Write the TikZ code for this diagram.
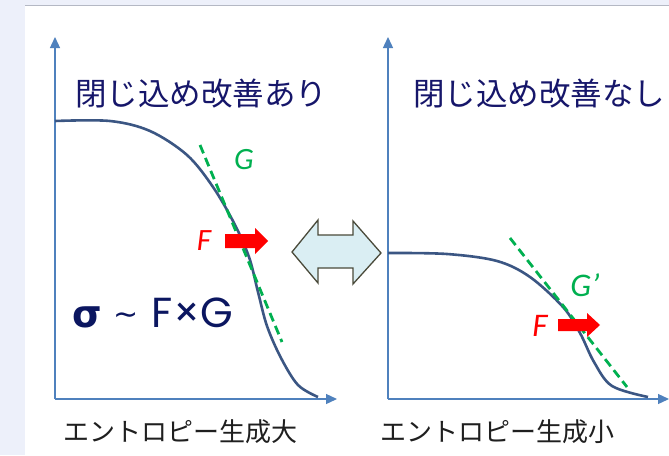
\documentclass[tikz,border=0pt]{standalone}
\usepackage{fontspec}
\usetikzlibrary{arrows.meta}
\newfontfamily\jpfont{Noto Sans CJK JP}
\newfontfamily\lblfont{Carlito}
\newfontfamily\formfont{Poppins}
\newfontfamily\sigfont{DejaVu Sans}
\definecolor{bgside}{HTML}{EDF0FA}
\definecolor{topline}{HTML}{B4B8C4}
\definecolor{axisblue}{HTML}{4F81BD}
\definecolor{curveblue}{HTML}{3B5683}
\definecolor{dgreen}{HTML}{00B050}
\definecolor{navy}{HTML}{16166A}
\definecolor{formnavy}{HTML}{0B1660}
\definecolor{arrowfill}{HTML}{DAEEF3}
\definecolor{arrowline}{HTML}{4A4A3A}
\begin{document}
\begin{tikzpicture}[x=1pt,y=-1pt,
  axis/.style={draw=axisblue,line width=1.3pt,-{Triangle[length=11pt,width=10pt]}},
  curve/.style={draw=curveblue,line width=2.6pt},
  tangent/.style={draw=dgreen,line width=2.8pt,dash pattern=on 9pt off 5pt},
  forcearrow/.style={fill=red,draw=none},
  title/.style={font=\jpfont\fontsize{31.5}{33}\selectfont,text=navy,inner sep=0pt,anchor=west},
  xlabel/.style={font=\jpfont\fontsize{26}{28}\selectfont,text=black!88,inner sep=0pt,anchor=west},
  flabel/.style={font=\lblfont\itshape\fontsize{31}{33}\selectfont,text=red,inner sep=0pt},
  glabel/.style={font=\lblfont\itshape\fontsize{31}{33}\selectfont,text=dgreen,inner sep=0pt}]
\useasboundingbox (0,0) rectangle (669,455);
\fill[bgside] (0,0) rectangle (669,455);
\fill[white] (25,5) rectangle (669,455);
\draw[topline,line width=1pt] (25,5) -- (669,5);

% left panel
\coordinate (lo) at (55,399);
\coordinate (ltop) at (55,37);
\coordinate (lright) at (337,399);
\draw[axis] (lo) -- (ltop);
\draw[axis] (lo) -- (lright);
\draw[curve] plot[smooth,tension=0.55] coordinates {(55,121) (110,121) (150,131) (187,155) (213,187) (234,223) (249,257) (258,292) (267,326) (281,358) (298,385) (318,397)};
\coordinate (lg1) at (200,145);
\coordinate (lg2) at (282,342);
\draw[tangent] (lg1) -- (lg2);
\fill[forcearrow] (225,234) -- (255,234) -- (255,228) -- (268,241) -- (255,254) -- (255,248) -- (225,248) -- cycle;
\node[flabel] (fl) at (204,241) {F};
\node[glabel] (gl) at (244,160) {G};
\node[title] (tl) at (75,94) {閉じ込め改善あり};
\node[xlabel] (xl) at (63,432) {エントロピー生成大};
\node[inner sep=0pt,anchor=west,text=formnavy,font=\formfont\fontsize{42}{44}\selectfont] (form) at (72,313) {{\sigfont\bfseries\fontsize{38}{40}\selectfont σ}\hspace{12pt}{\sigfont\fontsize{30}{32}\selectfont\raisebox{3pt}{\char"007E}}\hspace{13pt}F×G};

% double arrow
\draw[fill=arrowfill,draw=arrowline,line width=1.3pt,line join=miter]
  (292,252) -- (318,220) -- (318,235) -- (353,235) -- (353,221) -- (381,253)
  -- (353,284) -- (353,268) -- (318,268) -- (318,283) -- cycle;

% right panel
\coordinate (ro) at (388,399);
\coordinate (rtop) at (388,37);
\coordinate (rright) at (669,399);
\draw[axis] (ro) -- (rtop);
\draw[axis] (ro) -- (rright);
\draw[curve] plot[smooth,tension=0.55] coordinates {(388,253) (447,254) (497,261) (530,277) (563,307) (580,333) (594,362) (612,386) (648,397)};
\coordinate (rg1) at (510,238);
\coordinate (rg2) at (627,387);
\draw[tangent] (rg1) -- (rg2);
\fill[forcearrow] (558,319) -- (587,319) -- (587,313) -- (600,325) -- (587,337) -- (587,331) -- (558,331) -- cycle;
\node[flabel,font=\lblfont\itshape\fontsize{33}{35}\selectfont] (fr) at (540,326) {F};
\node[glabel,font=\lblfont\itshape\fontsize{33}{35}\selectfont] (gr) at (585,285) {G’};
\node[title] (tr) at (413,94) {閉じ込め改善なし};
\node[xlabel] (xr) at (380,432) {エントロピー生成小};
\end{tikzpicture}
\end{document}
